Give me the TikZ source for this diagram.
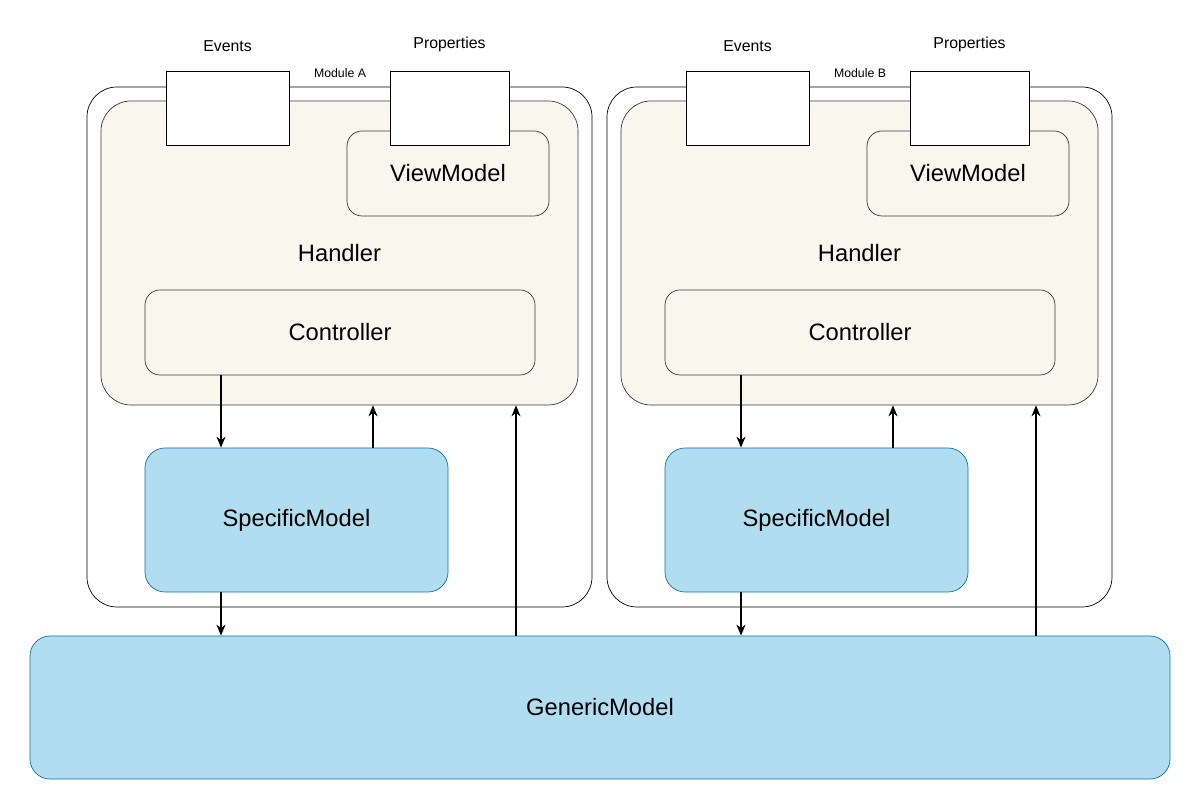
\documentclass[tikz,border=0pt]{standalone}
\usepackage{fontspec}
\setmainfont{Liberation Sans}
\usetikzlibrary{calc,positioning,arrows.meta}
\definecolor{handlerfill}{HTML}{F9F7ED}
\definecolor{modelfill}{HTML}{B1DDF0}
\definecolor{modeldraw}{HTML}{10739E}
\definecolor{boxdraw}{HTML}{36393D}
\tikzset{
  module/.style={draw, rounded corners=0.6cm, minimum width=10.1cm, minimum height=10.4cm},
  handler/.style={draw=boxdraw, fill=handlerfill, rounded corners=0.6cm, minimum width=9.54cm, minimum height=6.08cm, font=\fontsize{13.5}{16}\selectfont},
  inner/.style={draw=boxdraw, fill=handlerfill, rounded corners=0.3cm, minimum height=1.7cm, font=\fontsize{13.5}{16}\selectfont},
  model/.style={draw=modeldraw, fill=modelfill, rounded corners=0.4cm, font=\fontsize{13.5}{16}\selectfont},
  port/.style={draw, fill=white, minimum height=1.48cm},
  flow/.style={-{Stealth[length=2.2mm,width=1.8mm]}, thick}
}
\begin{document}
\begin{tikzpicture}
  \useasboundingbox (0,0) rectangle (24,16.2);

  \node[model, minimum width=22.8cm, minimum height=2.86cm] (gm) at (12,2.05) {GenericModel};

  \foreach \m/\dx in {A/0,B/10.4} {
    \node[module] (mod\m) at (6.79+\dx,9.26) {};
    \node[handler] (h\m) at (6.79+\dx,11.14) {Handler};
    \node[inner, minimum width=4.04cm] (vm\m) at (8.96+\dx,12.73) {ViewModel};
    \node[inner, minimum width=7.8cm] (c\m) at (6.8+\dx,9.55) {Controller};
    \node[port, minimum width=2.46cm] (ev\m) at (4.55+\dx,14.04) {};
    \node[port, minimum width=2.38cm] (pr\m) at (8.99+\dx,14.04) {};
    \node[font=\small] at (ev\m.north) [above=0.25cm] {Events};
    \node[font=\small] at (pr\m.north) [above=0.25cm] {Properties};
    \node[font=\scriptsize, fill=white, inner sep=1pt] at (6.8+\dx,14.74) {Module \m};
    \node[model, minimum width=6.06cm, minimum height=2.88cm] (s\m) at (5.93+\dx,5.8) {SpecificModel};

    \coordinate (xa\m) at (4.42+\dx,0);
    \coordinate (xb\m) at (7.46+\dx,0);
    \coordinate (xc\m) at (10.32+\dx,0);

    \draw[flow] (c\m.south -| xa\m) -- (s\m.north -| xa\m);
    \draw[flow] (s\m.north -| xb\m) -- (h\m.south -| xb\m);
    \draw[flow] (s\m.south -| xa\m) -- (gm.north -| xa\m);
    \draw[flow] (gm.north -| xc\m) -- (h\m.south -| xc\m);
  }
\end{tikzpicture}
\end{document}
